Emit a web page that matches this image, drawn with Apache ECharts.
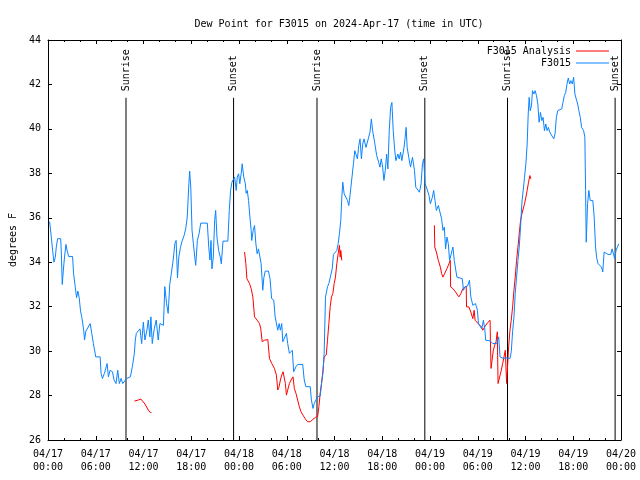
<!DOCTYPE html>
<html><head><meta charset="utf-8">
<script src="https://cdn.jsdelivr.net/npm/echarts@6/dist/echarts.min.js"></script>
<style>html,body{margin:0;padding:0;background:#fff}#c{width:640px;height:480px}</style>
</head><body><div id="c"></div>
<script>
// x values are hours since 2024-04-17 00:00 UTC
const tickLabels = ['04/17\n00:00','04/17\n06:00','04/17\n12:00','04/17\n18:00','04/18\n00:00','04/18\n06:00','04/18\n12:00','04/18\n18:00','04/19\n00:00','04/19\n06:00','04/19\n12:00','04/19\n18:00','04/20\n00:00'];

const obsF3015 = [
[0.2,35.83],[0.42,35.13],[0.58,34.53],[0.75,34.0],[0.92,34.23],[1.04,34.68],[1.21,35.06],[1.59,35.06],[1.67,34.5],[1.79,33.0],[1.92,33.6],[2.04,34.1],[2.25,34.8],[2.42,34.5],[2.59,34.26],[3.09,34.26],[3.21,33.5],[3.42,32.9],[3.59,32.4],[3.75,32.7],[3.92,32.4],[4.09,31.8],[4.26,31.5],[4.5,30.9],[4.59,30.5],[4.76,30.9],[5.0,30.94],[5.3,31.24],[5.5,30.8],[5.7,30.34],[6.0,29.74],[6.55,29.74],[6.67,29.0],[6.84,28.77],[7.09,29.0],[7.43,29.44],[7.59,28.84],[7.8,29.14],[8.1,29.07],[8.3,28.7],[8.55,28.54],[8.76,29.14],[8.97,28.54],[9.18,28.77],[9.39,28.54],[9.6,28.5],[9.89,28.77],[10.35,28.84],[10.6,29.3],[10.85,29.9],[10.97,30.5],[11.1,30.8],[11.35,30.87],[11.56,31.0],[11.77,30.34],[11.98,31.3],[12.18,30.5],[12.43,30.94],[12.6,31.4],[12.8,30.64],[12.93,31.54],[13.1,30.34],[13.35,31.0],[13.6,31.4],[13.85,30.5],[14.06,31.24],[14.27,31.16],[14.5,31.16],[14.68,32.9],[14.9,32.14],[15.1,31.7],[15.3,33.0],[15.5,33.5],[15.73,34.1],[15.94,34.83],[16.1,34.98],[16.27,33.3],[16.44,34.23],[16.65,34.68],[16.85,34.95],[17.1,35.2],[17.3,35.5],[17.5,36.03],[17.7,37.53],[17.8,38.1],[17.94,37.38],[18.1,35.43],[18.27,34.83],[18.44,34.23],[18.56,33.86],[18.77,34.98],[18.98,35.28],[19.19,35.76],[20.02,35.76],[20.2,34.68],[20.35,34.1],[20.48,34.98],[20.6,33.7],[20.77,34.23],[20.94,35.88],[21.07,36.33],[21.23,35.13],[21.44,34.53],[21.65,34.23],[21.78,33.93],[21.99,34.95],[22.6,34.95],[22.78,36.33],[22.94,37.23],[23.11,37.6],[23.32,37.53],[23.45,37.83],[23.65,37.23],[23.78,37.83],[23.95,37.98],[24.1,37.53],[24.27,37.98],[24.4,38.43],[24.6,37.83],[24.8,37.53],[24.9,37.1],[25.04,37.23],[25.2,36.78],[25.37,36.03],[25.53,35.43],[25.6,34.98],[25.78,35.43],[25.95,35.65],[26.12,34.83],[26.28,34.38],[26.45,34.6],[26.62,34.68],[26.78,33.93],[26.99,32.74],[27.12,33.3],[27.29,33.6],[27.7,33.6],[27.9,33.26],[28.1,32.36],[28.37,32.29],[28.54,31.54],[28.7,31.6],[28.87,30.94],[29.04,31.24],[29.2,30.94],[29.37,31.24],[29.5,30.42],[29.7,30.5],[29.96,30.8],[30.12,30.34],[30.33,29.9],[30.54,29.9],[30.7,30.04],[30.87,29.07],[31.16,29.3],[31.37,29.4],[32.0,29.4],[32.2,28.7],[32.4,28.4],[32.95,28.4],[33.1,27.8],[33.3,27.42],[33.46,27.65],[33.7,27.68],[33.88,27.95],[34.2,27.98],[34.37,28.54],[34.54,29.0],[34.7,29.9],[34.87,32.44],[35.12,32.89],[35.29,33.04],[35.54,33.04],[35.71,33.7],[35.87,34.35],[36.12,34.35],[36.29,34.53],[36.46,34.83],[36.62,35.28],[36.79,35.88],[36.92,36.93],[37.04,37.6],[37.21,37.08],[37.46,37.15],[37.63,36.78],[37.8,36.55],[37.96,37.05],[38.21,37.08],[38.38,38.43],[38.55,39.02],[38.71,38.95],[38.88,38.65],[39.05,39.25],[39.21,39.55],[39.38,38.65],[39.55,39.32],[39.71,39.55],[39.96,39.17],[40.21,39.25],[40.46,39.85],[40.63,40.45],[40.79,39.92],[41.04,39.4],[41.3,38.8],[41.55,38.5],[41.71,38.28],[41.88,38.65],[42.05,38.28],[42.21,37.68],[42.38,38.13],[42.55,38.87],[42.71,38.2],[42.88,39.92],[43.05,40.97],[43.21,41.19],[43.38,39.92],[43.55,39.1],[43.71,38.57],[43.96,38.87],[44.13,38.65],[44.3,38.95],[44.46,38.57],[44.71,39.1],[44.88,39.62],[45.0,40.07],[45.13,39.17],[45.33,38.72],[45.55,38.28],[45.8,38.72],[46.05,38.13],[46.21,37.38],[46.46,37.38],[46.67,37.15],[46.88,37.53],[47.05,38.43],[47.21,38.65],[47.38,37.53],[47.55,37.38],[47.71,37.45],[47.88,37.0],[48.05,36.63],[48.3,36.93],[48.46,37.23],[48.63,36.78],[48.8,36.33],[49.05,36.55],[49.3,36.48],[49.46,35.95],[49.63,35.43],[49.8,35.58],[49.96,34.6],[50.13,35.13],[50.3,34.83],[50.46,34.08],[50.71,34.16],[50.88,34.68],[51.05,34.08],[51.21,34.08],[51.38,33.33],[51.63,33.3],[52.05,33.26],[52.21,32.74],[52.38,32.89],[52.71,32.92],[52.96,33.19],[53.13,32.44],[53.38,32.06],[53.71,32.14],[53.96,31.84],[54.09,31.24],[54.3,31.16],[54.5,31.0],[54.71,31.39],[54.88,31.0],[55.0,30.49],[55.55,30.46],[55.88,30.34],[56.38,30.34],[56.63,30.64],[56.8,29.74],[57.0,29.67],[57.21,29.67],[57.55,29.7],[57.8,29.67],[58.05,29.67],[58.21,29.97],[58.38,30.87],[58.55,31.54],[58.71,32.59],[58.88,33.33],[59.05,34.08],[59.21,34.68],[59.38,35.58],[59.55,36.7],[59.71,37.23],[59.88,37.83],[60.05,38.43],[60.21,39.32],[60.34,40.67],[60.46,41.42],[60.59,40.82],[60.75,41.04],[60.88,41.72],[61.05,41.57],[61.21,41.72],[61.38,41.5],[61.55,41.12],[61.71,40.3],[61.88,40.74],[62.05,40.37],[62.21,40.52],[62.38,39.92],[62.55,40.22],[62.71,39.92],[62.88,40.07],[63.05,39.85],[63.3,39.77],[63.55,39.55],[63.71,39.77],[63.88,40.52],[64.05,40.82],[64.55,40.9],[64.71,41.19],[64.88,41.5],[65.05,41.64],[65.21,42.02],[65.38,42.29],[65.55,42.02],[65.71,42.17],[65.88,42.02],[66.05,42.32],[66.21,41.57],[66.38,41.34],[66.55,41.12],[66.71,40.82],[66.88,40.52],[67.05,40.07],[67.3,39.92],[67.46,39.62],[67.55,37.23],[67.63,34.9],[67.8,36.63],[67.96,37.23],[68.13,36.78],[68.46,36.78],[68.63,36.03],[68.8,34.68],[68.96,34.16],[69.13,33.93],[69.38,33.93],[69.55,33.78],[69.71,33.56],[69.88,34.46],[70.13,34.46],[70.38,34.35],[70.71,34.35],[70.88,34.6],[71.05,34.53],[71.21,34.16],[71.38,34.53],[71.55,34.68],[71.71,34.83]
];

const analysisSeg1 = [[10.85,27.75],[11.35,27.8],[11.68,27.84],[11.93,27.83],[12.18,27.62],[12.6,27.35],[12.85,27.24],[13.0,27.24]];

const analysisSeg2 = [[24.7,34.46],[24.86,33.93],[24.99,33.26],[25.32,33.04],[25.53,32.81],[25.74,32.44],[25.95,31.54],[26.28,31.39],[26.58,31.24],[26.74,31.0],[26.91,30.42],[27.2,30.49],[27.62,30.52],[27.83,29.67],[28.12,29.44],[28.45,29.22],[28.7,28.92],[28.87,28.25],[29.04,28.4],[29.2,28.7],[29.37,28.92],[29.54,29.07],[29.7,29.14],[29.83,28.54],[29.96,28.02],[30.12,28.25],[30.33,28.54],[30.54,28.7],[30.79,28.84],[30.95,28.32],[31.16,28.1],[31.37,27.8],[31.58,27.5],[31.79,27.27],[32.04,27.12],[32.29,26.97],[32.62,26.82],[32.95,26.82],[33.29,26.93],[33.62,27.02],[33.88,27.05],[34.04,27.5],[34.2,28.1],[34.37,28.54],[34.54,29.07],[34.7,29.74],[34.96,29.82],[35.12,30.49],[35.29,31.24],[35.46,32.0],[35.62,32.44],[35.79,32.59],[35.96,33.04],[36.12,33.33],[36.29,33.93],[36.46,34.38],[36.62,34.76],[36.71,34.23],[36.79,34.53],[36.92,34.08]];

const analysisSeg3 = [[48.55,35.66],[48.6,34.68],[48.8,34.46],[49.05,34.08],[49.3,33.78],[49.46,33.49],[49.63,33.33],[49.88,33.41],[50.13,33.71],[50.38,33.93],[50.55,34.08],[50.59,32.89],[50.88,32.81],[51.21,32.66],[51.63,32.44],[51.88,32.59],[52.13,32.81],[52.38,32.89],[52.55,32.92],[52.59,31.99],[52.88,31.99],[53.13,31.76],[53.38,31.46],[53.55,31.84],[53.67,31.39],[53.8,31.46],[54.05,31.24],[54.21,31.16],[54.46,31.09],[54.63,30.94],[54.88,31.09],[55.21,31.27],[55.55,31.39],[55.59,30.49],[55.67,29.22],[55.8,29.59],[55.96,30.04],[56.13,30.27],[56.3,30.42],[56.46,30.87],[56.55,28.54],[56.8,28.54],[56.96,29.14],[57.13,29.44],[57.3,29.74],[57.46,30.04],[57.63,28.54],[57.8,28.51],[57.88,30.19],[58.05,30.94],[58.21,31.39],[58.38,31.99],[58.55,32.74],[58.71,33.33],[58.88,34.08],[59.05,34.68],[59.21,35.28],[59.38,35.88],[59.55,36.18],[59.71,36.25],[59.88,36.63],[60.05,36.93],[60.21,37.23],[60.38,37.6],[60.55,37.9],[60.67,37.75]];

const eventNames = ['Sunrise','Sunset','Sunrise','Sunset','Sunrise','Sunset'];
const eventHours = [9.8, 23.32, 33.8, 47.35, 57.74, 71.26];
const eventLineTop = 41.4;

const FONT = 'DejaVu Sans Mono';
const BLUE = '#0a84ff';
const RED = '#ff0000';

const chart = echarts.init(document.getElementById('c'), null, {renderer:'canvas'});

const series = [];
eventHours.forEach((h, i) => {
  series.push({
    type: 'line', name: 'ev' + i, silent: true,
    symbol: 'circle', symbolSize: 1, showSymbol: true,
    itemStyle: {color: 'rgba(0,0,0,0)'},
    lineStyle: {color: '#000', width: 1},
    data: [[h, 26], {value: [h, eventLineTop], label: {
      show: true, position: 'top', distance: 6, rotate: 90,
      align: 'left', verticalAlign: 'middle',
      color: '#000', fontFamily: FONT, fontSize: 10,
      formatter: eventNames[i]
    }}],
    z: 1
  });
});
[analysisSeg1, analysisSeg2, analysisSeg3].forEach(seg => {
  series.push({
    type: 'line', name: 'F3015 Analysis', data: seg, symbol: 'none',
    lineStyle: {color: RED, width: 1}, itemStyle: {color: RED}, z: 2
  });
});
series.push({
  type: 'line', name: 'F3015', data: obsF3015, symbol: 'none',
  lineStyle: {color: BLUE, width: 1}, itemStyle: {color: BLUE}, z: 3
});

const tickStyle = {show: true, inside: true, length: 4, lineStyle: {color: '#000', width: 1}};
const minorStyle = {show: true, splitNumber: 3, length: 2, lineStyle: {color: '#000', width: 1}};
const lineStyleAx = {show: true, onZero: false, lineStyle: {color: '#000', width: 1}};

chart.setOption({
  animation: false,
  backgroundColor: '#fff',
  textStyle: {fontFamily: FONT},
  title: {
    text: 'Dew Point for F3015 on 2024-Apr-17 (time in UTC)',
    left: 334, top: 14, textAlign: 'center',
    textStyle: {fontFamily: FONT, fontSize: 10, fontWeight: 'normal', color: '#000'}
  },
  legend: {
    data: [{name: 'F3015 Analysis', icon: 'rect'}, {name: 'F3015', icon: 'rect'}],
    orient: 'vertical', align: 'right', right: 31, top: 46, padding: 0,
    itemWidth: 33, itemHeight: 1, itemGap: 2,
    textStyle: {fontFamily: FONT, fontSize: 10, color: '#000'},
    selectedMode: false
  },
  grid: {left: 46, right: 19, top: 40, bottom: 40, containLabel: false},
  xAxis: [{
    type: 'value', min: 0, max: 72, interval: 6, position: 'bottom',
    axisLine: lineStyleAx, axisTick: tickStyle, minorTick: minorStyle,
    splitLine: {show: false}, minorSplitLine: {show: false},
    axisLabel: {
      margin: 8, color: '#000', fontFamily: FONT, fontSize: 10, lineHeight: 13,
      formatter: v => tickLabels[Math.round(v / 6)]
    }
  }, {
    type: 'value', min: 0, max: 72, interval: 6, position: 'top',
    axisLine: lineStyleAx, axisTick: tickStyle, minorTick: minorStyle,
    splitLine: {show: false}, axisLabel: {show: false}
  }],
  yAxis: [{
    type: 'value', min: 26, max: 44, interval: 2, position: 'left',
    name: 'degrees F', nameLocation: 'middle', nameGap: 30, nameRotate: 90,
    nameTextStyle: {fontFamily: FONT, fontSize: 10, color: '#000'},
    axisLine: lineStyleAx, axisTick: tickStyle,
    splitLine: {show: false},
    axisLabel: {margin: 7, color: '#000', fontFamily: FONT, fontSize: 10}
  }, {
    type: 'value', min: 26, max: 44, interval: 2, position: 'right',
    axisLine: lineStyleAx, axisTick: tickStyle,
    splitLine: {show: false}, axisLabel: {show: false}
  }],
  series: series
});
</script>
</body></html>
